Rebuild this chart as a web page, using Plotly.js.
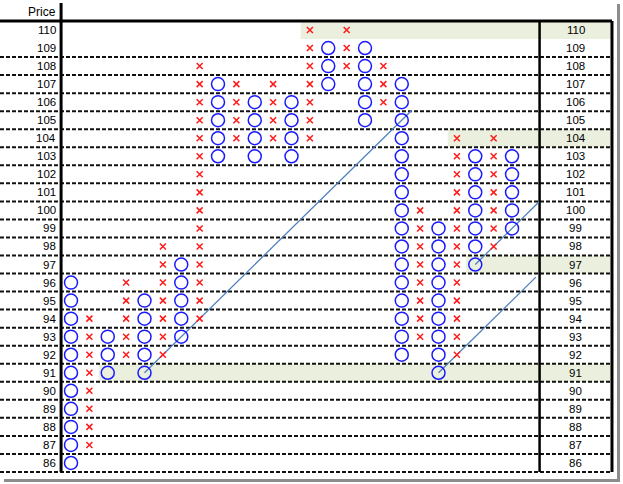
<!DOCTYPE html>
<html><head><meta charset="utf-8">
<script src="https://cdn.plot.ly/plotly-3.0.1.min.js"></script>
<style>html,body{margin:0;padding:0;background:#fff;overflow:hidden}</style>
</head><body><div id="chart" style="width:623px;height:484px"></div>
<script>
// ---- data ----
const prices = [110,109,108,107,106,105,104,103,102,101,100,99,98,97,96,95,94,93,92,91,90,89,88,87,86];
const colType = ['O','X','O','X','O','X','O','X','O','X','O','X','O','X','O','X','O','X','O','X','O','X','O','X','O'];
const colLow  = [86,87,91,92,91,92,93,94,103,104,103,104,103,104,107,108,105,106,92,93,91,92,97,98,99];
const colHigh = [96,94,93,96,95,98,97,108,107,107,106,107,106,110,109,110,109,108,107,100,99,104,103,104,103];
const highlightPrices = [110,104,97,91];
const highlightStartCol = [12.5,20.5,21.5,1.5];
const trendStartCol = [4,20,22];
const trendStartPrice = [91,91,97];
const trendEndCol = [18.55,25.3,25.45];
const trendEndPrice = [105.55,96.3,100.45];
const headerLabel = 'Price';

// ---- layout constants (column units / price units) ----
const xMin = -3.864, xMax = 29.55;
const yMin = 85.277, yMax = 111.663;
const leftLine = -0.54, divider = 25.5, rightBorder = 29.44;
const leftLabelX = -0.7, rightLabelX = 27.48;
const topPrice = Math.max(...prices), botPrice = Math.min(...prices);

const ox = [], oy = [], xx = [], xy = [];
colType.forEach((t, i) => {
  for (let p = colLow[i]; p <= colHigh[i]; p++) {
    if (t === 'O') { ox.push(i); oy.push(p); } else { xx.push(i); xy.push(p); }
  }
});

const traces = [];
trendStartCol.forEach((c, i) => {
  traces.push({x:[c, trendEndCol[i]], y:[trendStartPrice[i], trendEndPrice[i]], mode:'lines',
    line:{color:'#4f81bd', width:1.3}, hoverinfo:'skip', showlegend:false});
});
traces.push({x:ox, y:oy, mode:'markers', type:'scatter', showlegend:false,
  marker:{symbol:'circle-open', size:13, color:'#1a1aff', line:{width:1.5, color:'#1a1aff'}}});
traces.push({x:xx, y:xy, mode:'markers', type:'scatter', showlegend:false,
  marker:{symbol:'x-thin-open', size:6, color:'#ff1a1a', line:{width:1.5, color:'#ff1a1a'}}});

const shapes = [];
highlightPrices.forEach((p, i) => {
  shapes.push({type:'rect', xref:'x', yref:'y', x0:highlightStartCol[i], x1:rightBorder, y0:p-0.5, y1:p+0.5,
    fillcolor:'#ebf0de', line:{width:0}, layer:'below'});
});
for (let p = botPrice; p < topPrice; p++) {
  shapes.push({type:'line', xref:'x', yref:'y', x0:xMin, x1:rightBorder, y0:p-0.5, y1:p-0.5,
    line:{color:'#111', width:2, dash:'4px,2px'}, layer:'below'});
}
shapes.push({type:'line', xref:'x', yref:'y', x0:xMin, x1:rightBorder, y0:topPrice+0.5, y1:topPrice+0.5, line:{color:'#000', width:3}, layer:'below'});
shapes.push({type:'line', xref:'x', yref:'y', x0:leftLine, x1:leftLine, y0:botPrice-0.5, y1:topPrice+1.5, line:{color:'#000', width:3}, layer:'below'});
shapes.push({type:'line', xref:'x', yref:'y', x0:divider, x1:divider, y0:botPrice-0.5, y1:topPrice+0.5, line:{color:'#000', width:2.5}, layer:'below'});
shapes.push({type:'line', xref:'x', yref:'y', x0:rightBorder, x1:rightBorder, y0:botPrice-0.5, y1:topPrice+0.5, line:{color:'#000', width:3}, layer:'below'});
// window shadow
shapes.push({type:'rect', xref:'paper', yref:'paper', x0:617/614, x1:620/614, y0:-6/476, y1:1-4/476, fillcolor:'#8c8c8c', line:{width:0}});
shapes.push({type:'rect', xref:'paper', yref:'paper', x0:4/614, x1:620/614, y0:-6/476, y1:-3/476, fillcolor:'#8c8c8c', line:{width:0}});

const annotations = [];
const f = {family:'Liberation Sans, Arial, sans-serif', size:11.5, color:'#000'};
prices.forEach(p => {
  annotations.push({x:leftLabelX, y:p, xref:'x', yref:'y', text:String(p), showarrow:false, xanchor:'right', yanchor:'middle', font:f});
  annotations.push({x:rightLabelX, y:p, xref:'x', yref:'y', text:String(p), showarrow:false, xanchor:'center', yanchor:'middle', font:f});
});
annotations.push({x:leftLabelX, y:topPrice+1, xref:'x', yref:'y', text:headerLabel, showarrow:false, xanchor:'right', yanchor:'middle',
  font:{family:f.family, size:12, color:'#000'}});

const layout = {
  width:623, height:484, margin:{l:0, r:9, t:0, b:8},
  paper_bgcolor:'#fff', plot_bgcolor:'#fff',
  xaxis:{range:[xMin, xMax], visible:false, fixedrange:true},
  yaxis:{range:[yMin, yMax], visible:false, fixedrange:true},
  shapes, annotations, showlegend:false
};
Plotly.newPlot('chart', traces, layout, {displayModeBar:false, staticPlot:true});
</script></body></html>
